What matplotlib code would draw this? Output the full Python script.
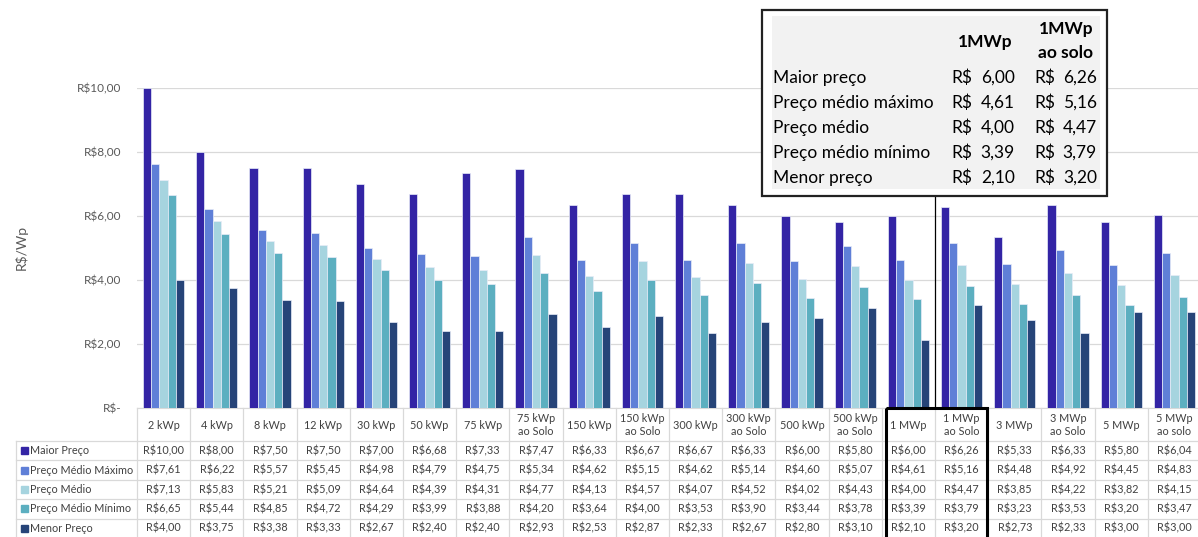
# Preços de sistemas fotovoltaicos por faixa de potência (R$/Wp)

import numpy as np
import matplotlib.pyplot as plt

plt.rcParams['font.family'] = ['Lato', 'DejaVu Sans']

categorias = ["2 kWp", "4 kWp", "8 kWp", "12 kWp", "30 kWp", "50 kWp", "75 kWp",
              "75 kWp\nao Solo", "150 kWp", "150 kWp\nao Solo", "300 kWp",
              "300 kWp\nao Solo", "500 kWp", "500 kWp\nao Solo", "1 MWp",
              "1 MWp\nao Solo", "3 MWp", "3 MWp\nao Solo", "5 MWp", "5 MWp\nao solo"]

maior_preco = [10.00, 8.00, 7.50, 7.50, 7.00, 6.68, 7.33, 7.47, 6.33, 6.67,
               6.67, 6.33, 6.00, 5.80, 6.00, 6.26, 5.33, 6.33, 5.80, 6.04]
medio_maximo = [7.61, 6.22, 5.57, 5.45, 4.98, 4.79, 4.75, 5.34, 4.62, 5.15,
                4.62, 5.14, 4.60, 5.07, 4.61, 5.16, 4.48, 4.92, 4.45, 4.83]
preco_medio = [7.13, 5.83, 5.21, 5.09, 4.64, 4.39, 4.31, 4.77, 4.13, 4.57,
               4.07, 4.52, 4.02, 4.43, 4.00, 4.47, 3.85, 4.22, 3.82, 4.15]
medio_minimo = [6.65, 5.44, 4.85, 4.72, 4.29, 3.99, 3.88, 4.20, 3.64, 4.00,
                3.53, 3.90, 3.44, 3.78, 3.39, 3.79, 3.23, 3.53, 3.20, 3.47]
menor_preco = [4.00, 3.75, 3.38, 3.33, 2.67, 2.40, 2.40, 2.93, 2.53, 2.87,
               2.33, 2.67, 2.80, 3.10, 2.10, 3.20, 2.73, 2.33, 3.00, 3.00]

series_nomes = ["Maior Preço", "Preço Médio Máximo", "Preço Médio",
                "Preço Médio Mínimo", "Menor Preço"]
series = [maior_preco, medio_maximo, preco_medio, medio_minimo, menor_preco]
cores = ["#3324a5", "#5f7fd7", "#a6d4df", "#5cafc0", "#264478"]

# quadro de destaque (1 MWp e 1 MWp ao solo)
destaque_nomes = ["Maior preço", "Preço médio máximo", "Preço médio",
                  "Preço médio mínimo", "Menor preço"]
destaque_idx = [14, 15]

yticks = [0, 2, 4, 6, 8, 10]


def brl(v):
    return "R$" + f"{v:.2f}".replace(".", ",")


W, H = 1198, 537
fig = plt.figure(figsize=(W / 100, H / 100), dpi=100)

# geometria em pixels
x0 = 137.0
cw = 53.2
y_top = 88.0
y_zero = 407.5
n = len(categorias)

ax = fig.add_axes([x0 / W, 1 - y_zero / H, n * cw / W, (y_zero - y_top) / H])
x = np.arange(n)
bw = 0.155
for i, (vals, cor) in enumerate(zip(series, cores)):
    ax.bar(x + (i - 2) * bw, vals, width=bw, color=cor, edgecolor="#e8ecf8",
           linewidth=0.5, zorder=3)

ax.set_xlim(-0.5, n - 0.5)
ax.set_ylim(0, 10)
ax.set_yticks(yticks)
ax.set_yticklabels(["R$-" if t == 0 else brl(t) for t in yticks],
                   color="#595959", fontsize=8.5)
ax.tick_params(axis="y", length=0, pad=11)
ax.set_xticks([])
ax.grid(axis="y", color="#d9d9d9", linewidth=0.9, zorder=0)
for s in ["top", "right", "left"]:
    ax.spines[s].set_visible(False)
ax.spines["bottom"].set_color("#d9d9d9")
ax.set_ylabel("R$/Wp", color="#595959", fontsize=10, labelpad=36)

# camada em coordenadas de pixel para a tabela e o quadro
ov = fig.add_axes([0, 0, 1, 1])
ov.set_xlim(0, W)
ov.set_ylim(H, 0)
ov.axis("off")

grid_c = "#d9d9d9"
txt_c = "#404040"
row_h = 19.4
y_head = 441.0
x_lab = 16.0
x_end = x0 + n * cw

# tabela de dados
for k in range(n + 1):
    ov.plot([x0 + k * cw] * 2, [y_zero, H + 2], color=grid_c, lw=0.9)
ov.plot([x_lab] * 2, [y_head, H + 2], color=grid_c, lw=0.9)
for r in range(len(series) + 1):
    yy = y_head + r * row_h
    ov.plot([x_lab, x_end], [yy, yy], color=grid_c, lw=0.9)

for k, cat in enumerate(categorias):
    ov.text(x0 + (k + 0.5) * cw, (y_zero + y_head) / 2 + 1, cat, ha="center",
            va="center", fontsize=7.8, color=txt_c, linespacing=1.2)

for r, (nome, vals, cor) in enumerate(zip(series_nomes, series, cores)):
    yc = y_head + (r + 0.5) * row_h
    ov.add_patch(plt.Rectangle((x_lab + 5, yc - 3.5), 7, 7, color=cor))
    ov.text(x_lab + 14, yc, nome, ha="left", va="center", fontsize=7.8,
            color=txt_c)
    for k, v in enumerate(vals):
        ov.text(x0 + (k + 0.5) * cw, yc, brl(v), ha="center", va="center",
                fontsize=7.8, color=txt_c)

# moldura preta nas colunas de 1 MWp
bx0 = x0 + destaque_idx[0] * cw
bx1 = x0 + (destaque_idx[-1] + 1) * cw
ov.add_patch(plt.Rectangle((bx0 + 4, y_zero), bx1 - bx0 - 5, H - y_zero + 5,
                           fill=False, edgecolor="black", lw=2.2, zorder=5))

# linha vertical ligando o quadro ao gráfico
ov.plot([bx0 + cw] * 2, [197, y_zero], color="black", lw=0.9, zorder=4)

# quadro de destaque
qx0, qx1, qy0, qy1 = 762, 1107, 10, 196
ov.add_patch(plt.Rectangle((qx0, qy0), qx1 - qx0, qy1 - qy0, facecolor="white",
                           edgecolor="#222222", lw=1.6, zorder=6))
ov.add_patch(plt.Rectangle((772, 16), 1100 - 772, 189 - 16, facecolor="#f2f2f2",
                           edgecolor="none", zorder=7))
ov.text(985, 42, "1MWp", ha="center", va="center", fontsize=12.5,
        fontweight="bold", color="black", zorder=8)
ov.text(1066, 29, "1MWp", ha="center", va="center", fontsize=12.5,
        fontweight="bold", color="black", zorder=8)
ov.text(1066, 53, "ao solo", ha="center", va="center", fontsize=12.5,
        fontweight="bold", color="black", zorder=8)
for r, nome in enumerate(destaque_nomes):
    yc = 78 + r * 25
    ov.text(773, yc, nome, ha="left", va="center", fontsize=12.5, color="black",
            zorder=8)
    for j, (xr, xv) in enumerate([(951, 1015), (1034, 1097)]):
        v = series[r][destaque_idx[j]]
        ov.text(xr, yc, "R$", ha="left", va="center", fontsize=12.5,
                color="black", zorder=8)
        ov.text(xv, yc, f"{v:.2f}".replace(".", ","), ha="right", va="center",
                fontsize=12.5, color="black", zorder=8)

fig.savefig("out.png", dpi=100)
